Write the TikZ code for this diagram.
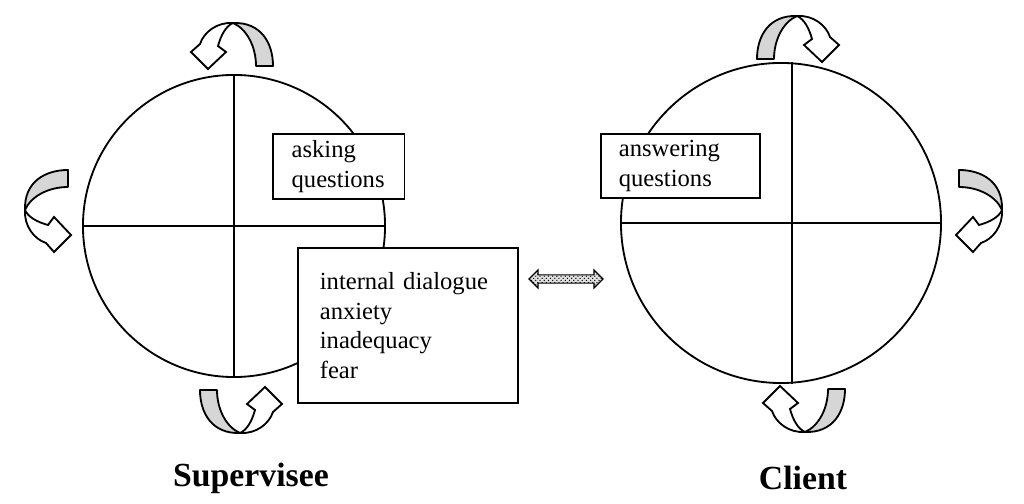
\documentclass[tikz,border=0pt]{standalone}
\usepackage{fontspec}
\setmainfont{Liberation Serif}
\usetikzlibrary{positioning,calc,shapes.arrows,patterns}
\tikzset{px/.style={x=0.025cm,y=0.025cm}}
\tikzset{wheel/.style={circle, draw, line width=1.3pt, inner sep=0pt}}
\tikzset{dbox/.style={draw, line width=1.2pt, fill=white, align=left, anchor=north west, inner ysep=0pt, font=\fontsize{17.5}{21}\selectfont}}
\tikzset{ribbon/.style={draw, line width=1.3pt, line join=round, fill=black!16}}
\tikzset{whitearr/.style={draw, line width=1.3pt, line join=miter, fill=white}}
\tikzset{title/.style={font=\fontsize{24}{28}\selectfont\bfseries}}
\newcommand\turnarr[2]{
		\begin{scope}[shift={#1}, #2]
			\path[ribbon] (0,0) .. controls (28,1) and (40,-20) .. (40,-43) -- (23,-43) .. controls (23,-24) and (14,-6) .. (0,0);
			\path[whitearr] (0,0) .. controls (-16,1) and (-29,-9) .. (-33,-21) -- (-42,-29) -- (-25,-46) -- (-7,-29) -- (-15,-23) .. controls (-12,-12) and (-7,-3) .. (0,0);
		\end{scope}
	}
\begin{document}
\begin{tikzpicture}[px]
			\useasboundingbox (0,0) rectangle (1024,504);
			\node[wheel, minimum size=7.55cm] (sup) at (234,278) {};
			\node[wheel, minimum size=8cm] (cli) at (781,281) {};
			\draw[line width=1.2pt] (sup.north) -- (sup.south) (sup.west) -- (sup.east);
			\draw[line width=1.2pt] ($(cli.north)+(11,-0.4)$) -- ($(cli.south)+(11,0.4)$) (cli.west) -- (cli.east);

			\node[dbox, inner xsep=0.47cm, text width=2.35cm, minimum height=1.625cm] (ask) at (272,371) {asking\\questions};
			\node[dbox, inner xsep=0.55cm, text width=4.4cm, minimum height=3.875cm] (inner) at (297,257) {internal dialogue\\anxiety\\inadequacy\\fear};
			\node[dbox, inner xsep=0.45cm, text width=3.07cm, minimum height=1.6cm] (ans) at (600,371) {answering\\questions};

%			link between the two
			\node[double arrow, draw, thick, preaction={fill=black!12}, pattern=crosshatch dots, minimum height=1.85cm, minimum width=0.45cm, inner sep=2.5pt, double arrow head extend=0.12cm] (link) at (566,225) {};

			\turnarr{(233,481)}{}
			\turnarr{(797,488)}{xscale=-1}
			\turnarr{(25,294)}{cm={0,1,-1,0,(0,0)}}
			\turnarr{(1002,294)}{cm={0,1,1,0,(0,0)}}
			\turnarr{(240,71)}{rotate=180}
			\turnarr{(805,72)}{yscale=-1}

			\node[title] (tsup) at (251,26) {Supervisee};
			\node[title] (tcli) at (803,26) {Client};
		\end{tikzpicture}
\end{document}
